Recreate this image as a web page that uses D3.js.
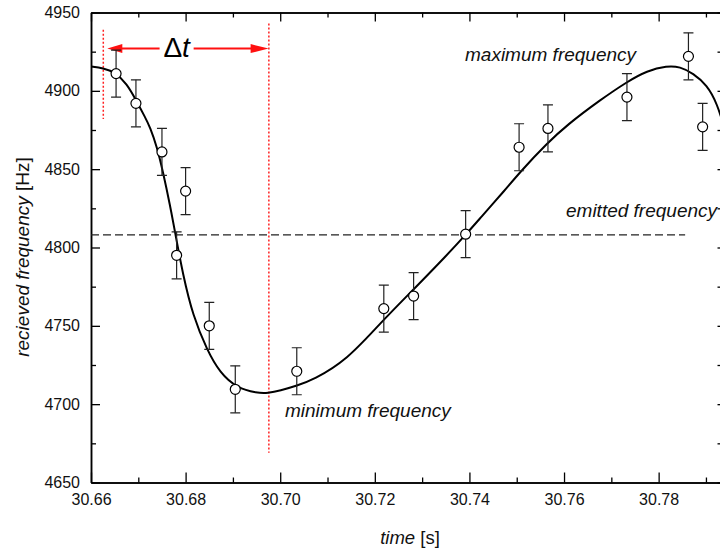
<!DOCTYPE html>
<html>
<head>
<meta charset="utf-8">
<script src="https://cdn.jsdelivr.net/npm/d3@7"></script>
<style>
  html, body { margin: 0; padding: 0; background: #fff; }
  svg { display: block; font-family: "Liberation Sans", Arial, Helvetica, sans-serif; }
</style>
</head>
<body>
<svg id="chart" width="720" height="553"></svg>
<script>
// ---- data ----
const timeS  = [30.6653, 30.6695, 30.6750, 30.6800, 30.6781, 30.6850, 30.6905, 30.7035,
                30.7219, 30.7282, 30.7392, 30.7505, 30.7566, 30.7733, 30.7863, 30.7893];
const freqHz = [4911, 4892, 4861, 4836, 4795, 4750, 4709.5, 4721,
                4761, 4769, 4808.5, 4864, 4876, 4896, 4922, 4877];
const errHz  = [15, 15, 15, 15, 15, 15, 15, 15, 15, 15, 15, 15, 15, 15, 15, 15];

// fitted curve
const fitTime = [30.66000, 30.66254, 30.66507, 30.66761, 30.66951, 30.67142, 30.67247, 30.67395,
                 30.67522, 30.67670, 30.67776, 30.67945, 30.68156, 30.68452, 30.68727, 30.69087,
                 30.69510, 30.69742, 30.69996, 30.70355, 30.70693, 30.71412, 30.72110, 30.72808,
                 30.73526, 30.73949, 30.74224, 30.74753, 30.75070, 30.75641, 30.76063, 30.76761,
                 30.77332, 30.77755, 30.78178, 30.78452, 30.78727, 30.79023, 30.79235, 30.79404];
const fitFreq = [4915.5, 4914.6, 4912.0, 4904.4, 4894.1, 4883.3, 4876.9, 4864.2,
                 4848.2, 4827.1, 4809.9, 4782.4, 4756.3, 4734.6, 4719.9, 4710.3,
                 4707.1, 4707.1, 4708.6, 4711.9, 4715.4, 4728.2, 4751.6, 4772.9,
                 4795.2, 4809.1, 4818.6, 4836.7, 4848.2, 4866.5, 4878.2, 4894.1,
                 4905.8, 4912.8, 4916.0, 4915.4, 4911.2, 4903.7, 4892.0, 4875.0];

const emittedFreq = 4808;
const emittedEnd = 30.7856;
const dtStart = 30.6626;   // left red dotted marker
const dtEnd   = 30.6976;   // right red dotted marker (minimum of fit)

const xMajor = [30.66, 30.68, 30.70, 30.72, 30.74, 30.76, 30.78];
const xMinor = [30.67, 30.69, 30.71, 30.73, 30.75, 30.77, 30.79];
const yMajor = [4650, 4700, 4750, 4800, 4850, 4900, 4950];
const yMinor = [4675, 4725, 4775, 4825, 4875, 4925];

const labels = {
  xTitle: "time", xUnit: " [s]",
  yTitle: "recieved frequency", yUnit: " [Hz]",
  max: "maximum frequency", min: "minimum frequency", emitted: "emitted frequency"
};

// ---- layout ----
const svg = d3.select("#chart");
const L = 91, R = 722.5, T = 12.5, B = 482.5;
const x = d3.scaleLinear().domain([30.66, 30.7935]).range([L, R]);
const y = d3.scaleLinear().domain([4650, 4950]).range([B, T]);

const defs = svg.append("defs");
defs.append("clipPath").attr("id", "plotclip")
  .append("rect").attr("x", L).attr("y", T).attr("width", R - L).attr("height", B - T);

// ---- axes ----
function styleAxis(g) {
  g.selectAll("path.domain").attr("stroke", "#000").attr("stroke-width", 1.5);
  g.selectAll(".tick line").attr("stroke", "#000").attr("stroke-width", 1.3);
  g.selectAll(".tick text").attr("fill", "#111").attr("font-size", 16)
    .attr("font-family", "Liberation Sans, Arial, sans-serif");
}
svg.append("g").attr("transform", `translate(0,${B})`)
  .call(d3.axisBottom(x).tickValues(xMajor).tickFormat(d3.format(".2f"))
        .tickSizeInner(-10).tickSizeOuter(0).tickPadding(11)).call(styleAxis);
svg.append("g").attr("transform", `translate(0,${B})`)
  .call(d3.axisBottom(x).tickValues(xMinor).tickFormat("")
        .tickSizeInner(-5).tickSizeOuter(0)).call(styleAxis);
svg.append("g").attr("transform", `translate(0,${T})`)
  .call(d3.axisTop(x).tickValues(xMajor).tickFormat("")
        .tickSizeInner(-9).tickSizeOuter(0)).call(styleAxis);
svg.append("g").attr("transform", `translate(0,${T})`)
  .call(d3.axisTop(x).tickValues(xMinor).tickFormat("")
        .tickSizeInner(-5).tickSizeOuter(0)).call(styleAxis);
svg.append("g").attr("transform", `translate(${L},0)`)
  .call(d3.axisLeft(y).tickValues(yMajor).tickFormat(d3.format("d"))
        .tickSizeInner(-9).tickSizeOuter(0).tickPadding(11)).call(styleAxis);
svg.append("g").attr("transform", `translate(${L},0)`)
  .call(d3.axisLeft(y).tickValues(yMinor).tickFormat("")
        .tickSizeInner(-5).tickSizeOuter(0)).call(styleAxis);
svg.append("g").attr("transform", `translate(${R},0)`)
  .call(d3.axisRight(y).tickValues(yMajor.concat(yMinor)).tickFormat("")
        .tickSizeInner(-5).tickSizeOuter(0)).call(styleAxis);

// ---- axis titles ----
const xt = svg.append("text").attr("x", 410).attr("y", 544).attr("text-anchor", "middle")
  .attr("font-size", 18.5).attr("fill", "#111");
xt.append("tspan").attr("font-style", "italic").text(labels.xTitle);
xt.append("tspan").text(labels.xUnit);

const yt = svg.append("text").attr("transform", "translate(29,257) rotate(-90)")
  .attr("text-anchor", "middle").attr("font-size", 19).attr("fill", "#111");
yt.append("tspan").attr("font-style", "italic").text(labels.yTitle);
yt.append("tspan").text(labels.yUnit);

// ---- plot content ----
const plot = svg.append("g").attr("clip-path", "url(#plotclip)");

// emitted frequency dashed line
plot.append("line")
  .attr("x1", x(30.66)).attr("x2", x(emittedEnd))
  .attr("y1", y(emittedFreq)).attr("y2", y(emittedFreq))
  .attr("stroke", "#222").attr("stroke-width", 1.3).attr("stroke-dasharray", "8,4");

// red dotted markers
plot.append("line")
  .attr("x1", x(dtStart)).attr("x2", x(dtStart))
  .attr("y1", y(4939)).attr("y2", y(4882))
  .attr("stroke", "#ff2020").attr("stroke-width", 1.5).attr("stroke-dasharray", "2,2");
plot.append("line")
  .attr("x1", x(dtEnd)).attr("x2", x(dtEnd))
  .attr("y1", y(4943)).attr("y2", y(4669))
  .attr("stroke", "#ff2020").attr("stroke-width", 1.5).attr("stroke-dasharray", "2,2");

// Δt arrow
const arrowY = y(4927);
const leftTip = x(30.66345), rightTip = x(30.69755);
const gapL = x(30.6745), gapR = x(30.6817);
plot.append("line").attr("x1", leftTip + 10).attr("x2", gapL)
  .attr("y1", arrowY).attr("y2", arrowY).attr("stroke", "#ff1010").attr("stroke-width", 2);
plot.append("line").attr("x1", gapR).attr("x2", rightTip - 12)
  .attr("y1", arrowY).attr("y2", arrowY).attr("stroke", "#ff1010").attr("stroke-width", 2);
plot.append("path")
  .attr("d", `M${leftTip},${arrowY} L${leftTip + 15},${arrowY - 4.5} L${leftTip + 15},${arrowY + 4.5} Z`)
  .attr("fill", "#ff1010");
plot.append("path")
  .attr("d", `M${rightTip},${arrowY} L${rightTip - 18},${arrowY - 4.5} L${rightTip - 18},${arrowY + 4.5} Z`)
  .attr("fill", "#ff1010");
const dt = svg.append("text").attr("x", (gapL + gapR) / 2).attr("y", 57)
  .attr("text-anchor", "middle").attr("font-size", 28).attr("fill", "#000");
dt.append("tspan").text("Δ");
dt.append("tspan").attr("font-style", "italic").text("t");

// fit curve
const line = d3.line().x((d, i) => x(fitTime[i])).y((d, i) => y(fitFreq[i])).curve(d3.curveBasis);
plot.append("path").datum(fitFreq).attr("d", line)
  .attr("fill", "none").attr("stroke", "#000").attr("stroke-width", 2);

// error bars + points
const pts = plot.append("g").selectAll("g").data(freqHz).join("g");
pts.append("line")
  .attr("x1", (d, i) => x(timeS[i])).attr("x2", (d, i) => x(timeS[i]))
  .attr("y1", (d, i) => y(d - errHz[i])).attr("y2", (d, i) => y(d + errHz[i]))
  .attr("stroke", "#222").attr("stroke-width", 1.2);
pts.append("line")
  .attr("x1", (d, i) => x(timeS[i]) - 5).attr("x2", (d, i) => x(timeS[i]) + 5)
  .attr("y1", (d, i) => y(d + errHz[i])).attr("y2", (d, i) => y(d + errHz[i]))
  .attr("stroke", "#222").attr("stroke-width", 1.2);
pts.append("line")
  .attr("x1", (d, i) => x(timeS[i]) - 5).attr("x2", (d, i) => x(timeS[i]) + 5)
  .attr("y1", (d, i) => y(d - errHz[i])).attr("y2", (d, i) => y(d - errHz[i]))
  .attr("stroke", "#222").attr("stroke-width", 1.2);
pts.append("circle")
  .attr("cx", (d, i) => x(timeS[i])).attr("cy", d => y(d)).attr("r", 5)
  .attr("fill", "#fff").attr("stroke", "#000").attr("stroke-width", 1.2);

// annotations
svg.append("text").attr("x", 465).attr("y", 61).attr("font-size", 19).attr("font-style", "italic")
  .attr("fill", "#111").text(labels.max);
svg.append("text").attr("x", 285).attr("y", 417).attr("font-size", 19).attr("font-style", "italic")
  .attr("fill", "#111").text(labels.min);
svg.append("text").attr("x", 566).attr("y", 217).attr("font-size", 19).attr("font-style", "italic")
  .attr("fill", "#111").text(labels.emitted);
</script>
</body>
</html>
